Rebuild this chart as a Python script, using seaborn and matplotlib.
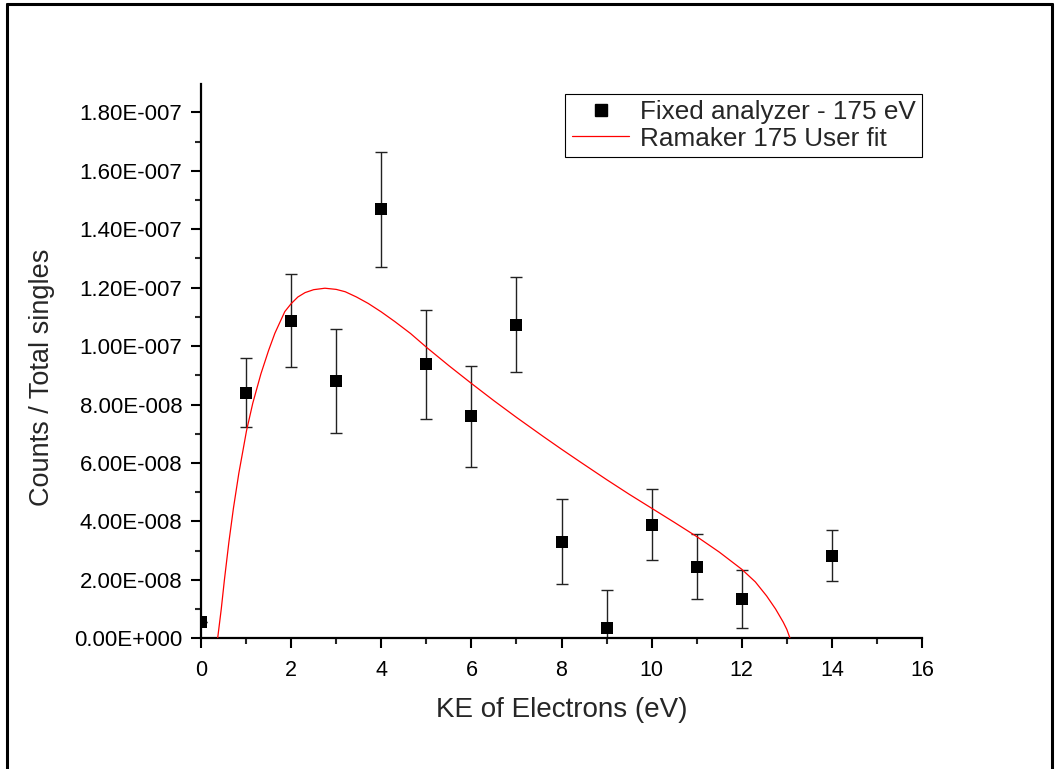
import matplotlib
matplotlib.use("Agg")
import matplotlib.pyplot as plt
from matplotlib.lines import Line2D
from matplotlib.ticker import AutoMinorLocator, FixedLocator, FixedFormatter
import seaborn as sns
import pandas as pd

# ---- data ----
ke = [0, 1, 2, 3, 4, 5, 6, 7, 8, 9, 10, 11, 12, 14]
counts = [5.6e-9, 8.41e-8, 1.087e-7, 8.81e-8, 1.468e-7, 9.38e-8, 7.59e-8,
          1.073e-7, 3.31e-8, 3.4e-9, 3.89e-8, 2.45e-8, 1.35e-8, 2.82e-8]
errors = [0.0, 1.17e-8, 1.6e-8, 1.77e-8, 1.96e-8, 1.86e-8, 1.73e-8,
          1.62e-8, 1.46e-8, 1.32e-8, 1.21e-8, 1.11e-8, 1.0e-8, 0.87e-8]

fit_x = [0.37, 0.45, 0.52, 0.62, 0.72, 0.84, 0.94, 1.01, 1.15, 1.33, 1.5, 1.64,
         1.86, 2.0, 2.15, 2.31, 2.5, 2.75, 3.0, 3.20, 3.45, 3.71, 4.0, 4.30,
         4.65, 5.01, 5.5, 6.01, 6.5, 7.0, 7.60, 8.0, 8.41, 9.0, 9.5, 10.0,
         10.5, 11.0, 11.5, 12.0, 12.3, 12.55, 12.75, 12.92, 13.0, 13.07]
fit_y = [0.0, 1.0e-8, 2.0e-8, 3.3e-8, 4.45e-8, 5.65e-8, 6.5e-8, 7.1e-8, 8.05e-8,
         9.05e-8, 9.85e-8, 10.44e-8, 11.18e-8, 11.45e-8, 11.68e-8, 11.83e-8,
         11.93e-8, 11.98e-8, 11.94e-8, 11.86e-8, 11.68e-8, 11.46e-8, 11.17e-8,
         10.84e-8, 10.43e-8, 9.95e-8, 9.33e-8, 8.71e-8, 8.13e-8, 7.56e-8,
         6.9e-8, 6.47e-8, 6.04e-8, 5.43e-8, 4.93e-8, 4.45e-8, 3.97e-8,
         3.48e-8, 2.95e-8, 2.36e-8, 1.93e-8, 1.45e-8, 1.0e-8, 0.55e-8,
         0.3e-8, 0.0]

yticks = [0, 2e-8, 4e-8, 6e-8, 8e-8, 1e-7, 1.2e-7, 1.4e-7, 1.6e-7, 1.8e-7]
ytick_labels = ["0.00E+000", "2.00E-008", "4.00E-008", "6.00E-008", "8.00E-008",
                "1.00E-007", "1.20E-007", "1.40E-007", "1.60E-007", "1.80E-007"]
xticks = [0, 2, 4, 6, 8, 10, 12, 14, 16]

series_label = "Fixed analyzer - 175 eV"
fit_label = "Ramaker 175 User fit"
xlabel = "KE of Electrons (eV)"
ylabel = "Counts / Total singles"

df = pd.DataFrame({"ke": ke, "counts": counts, "err": errors})
fit = pd.DataFrame({"x": fit_x, "y": fit_y})

sns.set_style("ticks")
plt.rcParams["font.family"] = ["Liberation Sans", "DejaVu Sans"]

fig = plt.figure(figsize=(10.55, 7.69), dpi=100)
ax = fig.add_axes([0.1905, 0.17, 0.874 - 0.1905, 0.8908 - 0.17])

# error bars
ax.errorbar(df["ke"], df["counts"], yerr=df["err"], fmt="none",
            ecolor="#222222", elinewidth=1.0, capsize=4.2, capthick=1.0, zorder=2)
sns.scatterplot(data=df, x="ke", y="counts", marker="s", s=80, color="black",
                edgecolor="black", linewidth=0, ax=ax, zorder=3, label=series_label)
sns.lineplot(data=fit, x="x", y="y", color="red", linewidth=0.9, ax=ax,
             zorder=4, label=fit_label, sort=False)

ax.set_xlim(0, 16)
ax.set_ylim(0, 1.897e-7)
ax.xaxis.set_major_locator(FixedLocator(xticks))
ax.xaxis.set_minor_locator(AutoMinorLocator(2))
ax.yaxis.set_major_locator(FixedLocator(yticks))
ax.yaxis.set_major_formatter(FixedFormatter(ytick_labels))
ax.yaxis.set_minor_locator(AutoMinorLocator(2))

for side in ["top", "right"]:
    ax.spines[side].set_visible(False)
for side in ["left", "bottom"]:
    ax.spines[side].set_linewidth(1.6)
    ax.spines[side].set_color("black")

ax.tick_params(axis="both", which="major", direction="out", length=7.5, width=1.5,
               colors="black")
ax.tick_params(axis="both", which="minor", direction="out", length=4.5, width=1.5)
ax.tick_params(axis="y", which="major", pad=6, labelsize=16)
ax.tick_params(axis="x", which="major", pad=8, labelsize=15.5)

ax.set_xlabel(xlabel, fontsize=20, labelpad=12)
ax.set_ylabel(ylabel, fontsize=19.5)
ax.yaxis.set_label_coords(-0.202, 0.47)

handles = [Line2D([], [], marker="s", linestyle="none", color="black", markersize=9),
           Line2D([], [], color="red", linewidth=0.9)]
leg = ax.legend(handles, [series_label, fit_label], loc="upper right",
                bbox_to_anchor=(1.0, 0.982), borderaxespad=0, fontsize=18.8,
                frameon=True, fancybox=False, edgecolor="black", framealpha=1,
                handlelength=2.2, handletextpad=0.4, borderpad=0.25,
                labelspacing=0.08)
leg.get_frame().set_linewidth(0.8)

# outer frame (left, top, right edges visible)
fx0, fx1, fy1 = 7 / 1055, 1052 / 1055, 1 - 4 / 769
for xs, ys in [([fx0, fx0], [-0.01, fy1]), ([fx0, fx1], [fy1, fy1]), ([fx1, fx1], [fy1, -0.01])]:
    fig.add_artist(Line2D(xs, ys, transform=fig.transFigure, color="black", linewidth=2.2))

fig.savefig("out.png", dpi=100)
